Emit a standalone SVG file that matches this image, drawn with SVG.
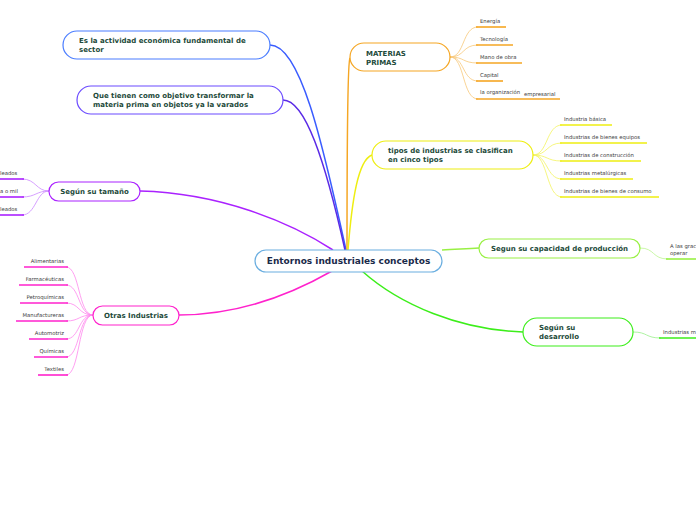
<svg xmlns="http://www.w3.org/2000/svg" width="696" height="520" viewBox="0 0 696 520">
<style>
.node{fill:#fff;stroke-width:1.2}
.nt{font-family:"DejaVu Sans",Verdana,sans-serif;font-weight:bold;font-size:7px;fill:#1d4a3a}
.ct{font-family:"DejaVu Sans",Verdana,sans-serif;font-size:5.3px;fill:#3a3a3a}
.main{fill:none;stroke-width:1.5}
.sub{fill:none;stroke-width:0.8}
.ul{fill:none;stroke-width:1.6}
</style>
<rect width="696" height="520" fill="#fff"/>
<g id="connectors">
  <path class="main" stroke="#3a5cff" d="M270,45 C300,45 322,140 346,250"/>
  <path class="main" stroke="#5a2ae6" d="M283,100 C305,100 325,160 345,250"/>
  <path class="main" stroke="#f5a623" d="M350,58 C347,62 347,200 347,250"/>
  <path class="main" stroke="#eeee11" d="M372,155 C358,160 352,200 348,250"/>
  <path class="main" stroke="#99f044" d="M442,250 C455,249 465,249 479,248"/>
  <path class="main" stroke="#3cee1a" d="M362,271 C400,305 460,330 523,332"/>
  <path class="main" stroke="#aa22ff" d="M140,191 C220,193 290,222 333,250"/>
  <path class="main" stroke="#ff22cc" d="M179,315 C240,315 290,295 332,271"/>
  <g stroke="#f8c878">
    <path class="sub" d="M450,57 C465,57 462,27 478,27"/>
    <path class="sub" d="M450,57 C465,57 462,45 478,45"/>
    <path class="sub" d="M450,57 C465,57 462,63 478,63"/>
    <path class="sub" d="M450,57 C465,57 462,81 478,81"/>
    <path class="sub" d="M450,57 C465,57 462,99 478,99"/>
  </g>
  <g stroke="#f5a623">
    <path class="ul" d="M476,27 H506"/>
    <path class="ul" d="M476,45 H513"/>
    <path class="ul" d="M476,63 H522"/>
    <path class="ul" d="M476,81 H503"/>
    <path class="ul" d="M476,99 H560"/>
  </g>
  <g stroke="#f4f460">
    <path class="sub" d="M533,155 C548,155 546,125 562,125"/>
    <path class="sub" d="M533,155 C548,155 546,143 562,143"/>
    <path class="sub" d="M533,155 C548,155 546,161 562,161"/>
    <path class="sub" d="M533,155 C548,155 546,179 562,179"/>
    <path class="sub" d="M533,155 C548,155 546,197 562,197"/>
  </g>
  <g stroke="#eeee11">
    <path class="ul" d="M560,125 H612"/>
    <path class="ul" d="M560,143 H647"/>
    <path class="ul" d="M560,161 H641"/>
    <path class="ul" d="M560,179 H633"/>
    <path class="ul" d="M560,197 H659"/>
  </g>
  <path class="sub" stroke="#bbf590" d="M640,248 C655,248 652,259 668,259"/>
  <path class="ul" stroke="#99f044" d="M666,259 H696"/>
  <path class="sub" stroke="#99f08a" d="M633,332 C648,332 645,338 661,338"/>
  <path class="ul" stroke="#3cee1a" d="M659,338 H696"/>
  <g stroke="#cc88ff">
    <path class="sub" d="M49,191 C36,191 36,179 22,179"/>
    <path class="sub" d="M49,191 C36,191 36,197 22,197"/>
    <path class="sub" d="M49,191 C36,191 36,215 22,215"/>
  </g>
  <g stroke="#aa22ff">
    <path class="ul" d="M0,179 H24"/>
    <path class="ul" d="M0,197 H24"/>
    <path class="ul" d="M0,215 H24"/>
  </g>
  <g stroke="#ff88ee">
    <path class="sub" d="M93,315 C78,315 80,267 66,267"/>
    <path class="sub" d="M93,315 C78,315 80,285 66,285"/>
    <path class="sub" d="M93,315 C78,315 80,303 66,303"/>
    <path class="sub" d="M93,315 C78,315 80,321 66,321"/>
    <path class="sub" d="M93,315 C78,315 80,339 66,339"/>
    <path class="sub" d="M93,315 C78,315 80,357 66,357"/>
    <path class="sub" d="M93,315 C78,315 80,375 66,375"/>
  </g>
  <g stroke="#ff22cc">
    <path class="ul" d="M24,267 H68"/>
    <path class="ul" d="M19,285 H68"/>
    <path class="ul" d="M20,303 H68"/>
    <path class="ul" d="M16,321 H68"/>
    <path class="ul" d="M29,339 H68"/>
    <path class="ul" d="M34,357 H68"/>
    <path class="ul" d="M38,375 H68"/>
  </g>
</g>
<g id="central">
  <rect class="node" x="255" y="250" width="187" height="22" rx="11" stroke="#6aaee0"/>
  <text x="348.5" y="264" text-anchor="middle" font-family="DejaVu Sans, Verdana, sans-serif" font-weight="bold" font-size="9" fill="#1a2a4a">Entornos industriales conceptos</text>
</g>
<g id="n-actividad">
  <rect class="node" x="63" y="31" width="207" height="28" rx="14" stroke="#4a7dff"/>
  <text class="nt" x="79" y="43">Es la actividad económica fundamental de</text>
  <text class="nt" x="79" y="52">sector</text>
</g>
<g id="n-objetivo">
  <rect class="node" x="77" y="86" width="206" height="28" rx="14" stroke="#6a4aff"/>
  <text class="nt" x="93" y="98">Que tienen como objetivo transformar la</text>
  <text class="nt" x="93" y="107">materia prima en objetos ya la varados</text>
</g>
<g id="n-materias">
  <rect class="node" x="350" y="43" width="100" height="28" rx="14" stroke="#f5a623"/>
  <text class="nt" x="366" y="56">MATERIAS</text>
  <text class="nt" x="366" y="65">PRIMAS</text>
</g>
<g id="c-materias">
  <text class="ct" x="480" y="23">Energía</text>
  <text class="ct" x="480" y="41">Tecnología</text>
  <text class="ct" x="480" y="59">Mano de obra</text>
  <text class="ct" x="480" y="77">Capital</text>
  <text class="ct" x="480" y="94">la organización</text>
  <text class="ct" x="524" y="96">empresarial</text>
</g>
<g id="n-tipos">
  <rect class="node" x="372" y="141" width="161" height="28" rx="14" stroke="#eeee11"/>
  <text class="nt" x="388" y="153">tipos de industrias se clasifican</text>
  <text class="nt" x="388" y="162">en cinco tipos</text>
</g>
<g id="c-tipos">
  <text class="ct" x="564" y="121">Industria básica</text>
  <text class="ct" x="564" y="139">Industrias de bienes equipos</text>
  <text class="ct" x="564" y="157">Industrias de construcción</text>
  <text class="ct" x="564" y="175">Industrias metalúrgicas</text>
  <text class="ct" x="564" y="193">Industrias de bienes de consumo</text>
</g>
<g id="n-capacidad">
  <rect class="node" x="479" y="239" width="161" height="19" rx="9.5" stroke="#99f044"/>
  <text class="nt" x="491" y="251">Segun su capacidad  de producción</text>
</g>
<g id="c-capacidad">
  <text class="ct" x="670" y="248">A las grac</text>
  <text class="ct" x="670" y="255">operar</text>
</g>
<g id="n-desarrollo">
  <rect class="node" x="523" y="318" width="110" height="28" rx="14" stroke="#3cee1a"/>
  <text class="nt" x="539" y="330">Según su</text>
  <text class="nt" x="539" y="339">desarrollo</text>
</g>
<g id="c-desarrollo">
  <text class="ct" x="663" y="334">Industrias m</text>
</g>
<g id="n-tamano">
  <rect class="node" x="49" y="182" width="91" height="19" rx="9.5" stroke="#aa22ff"/>
  <text class="nt" x="94.5" y="194" text-anchor="middle">Según su tamaño</text>
</g>
<g id="c-tamano">
  <text class="ct" x="0" y="175">leados</text>
  <text class="ct" x="0" y="193">a o mil</text>
  <text class="ct" x="0" y="211">leados</text>
</g>
<g id="n-otras">
  <rect class="node" x="93" y="306" width="86" height="19" rx="9.5" stroke="#ff22cc"/>
  <text class="nt" x="136" y="318" text-anchor="middle">Otras Industrias</text>
</g>
<g id="c-otras" text-anchor="end">
  <text class="ct" x="64" y="263">Alimentarias</text>
  <text class="ct" x="64" y="281">Farmacéuticas</text>
  <text class="ct" x="64" y="299">Petroquímicas</text>
  <text class="ct" x="64" y="317">Manufactureras</text>
  <text class="ct" x="64" y="335">Automotriz</text>
  <text class="ct" x="64" y="353">Químicas</text>
  <text class="ct" x="64" y="371">Textiles</text>
</g>
</svg>
